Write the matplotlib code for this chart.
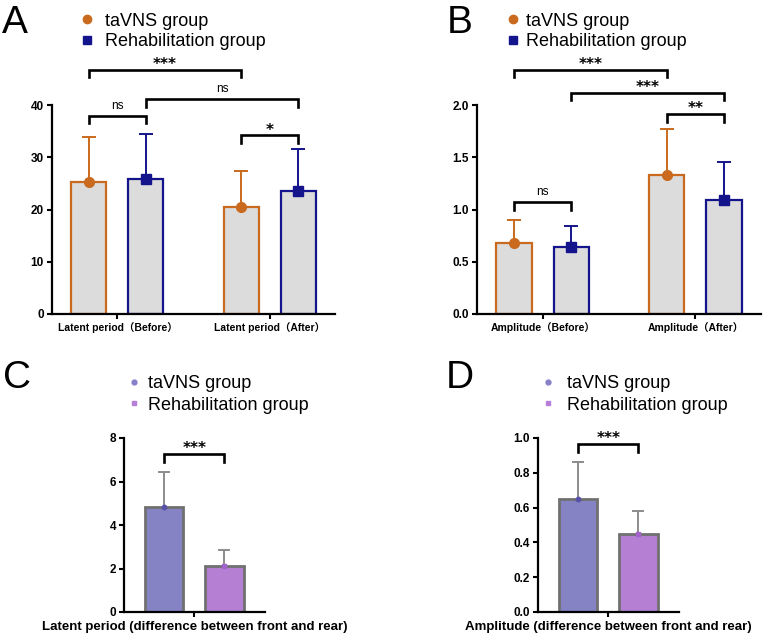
import matplotlib.pyplot as plt
from matplotlib.lines import Line2D

plt.rcParams['font.family'] = ['Liberation Sans', 'Noto Sans CJK SC', 'DejaVu Sans']

# ---- data ----
# panel A: latent period
groups_a = ['Latent period（Before）', 'Latent period（After）']
tavns_a = [25.3, 20.5]
tavns_a_sd = [8.5, 6.8]
rehab_a = [25.8, 23.6]
rehab_a_sd = [8.6, 7.9]

# panel B: amplitude
groups_b = ['Amplitude（Before）', 'Amplitude（After）']
tavns_b = [0.68, 1.33]
tavns_b_sd = [0.22, 0.44]
rehab_b = [0.64, 1.09]
rehab_b_sd = [0.205, 0.36]

# panel C / D: difference between front and rear
diff_lat = [4.85, 2.12]
diff_lat_sd = [1.6, 0.72]
diff_amp = [0.65, 0.45]
diff_amp_sd = [0.21, 0.13]

# significance brackets: (bar i, bar j, top, leg bottom, label)
sig_a = [(0, 2, 46.7, 45.3, '***'), (0, 1, 37.9, 36.6, 'ns'),
         (1, 3, 41.1, 39.6, 'ns'), (2, 3, 34.2, 32.8, '*')]
sig_b = [(0, 2, 2.335, 2.27, '***'), (1, 3, 2.115, 2.05, '***'),
         (2, 3, 1.914, 1.84, '**'), (0, 1, 1.07, 1.0, 'ns')]
sig_c = [(0, 1, 7.26, 6.9, '***')]
sig_d = [(0, 1, 0.965, 0.92, '***')]

ORANGE = '#C96A1E'
NAVY = '#14148C'
FILL = '#DCDCDC'
PURPLE1 = '#8583C3'
PURPLE2 = '#B57FD3'

W, H = 767, 639
fig = plt.figure(figsize=(W / 100, H / 100), dpi=100)


def px_axes(left, top, right, bottom):
    return fig.add_axes([left / W, 1 - bottom / H, (right - left) / W, (bottom - top) / H])


def fxy(px, py):
    return px / W, 1 - py / H


def style_axes(ax):
    for s in ['top', 'right']:
        ax.spines[s].set_visible(False)
    for s in ['left', 'bottom']:
        ax.spines[s].set_linewidth(1.6)
    ax.tick_params(direction='out', length=3.8, width=1.5, pad=2)
    for lab in ax.get_yticklabels():
        lab.set_fontweight('bold')
        lab.set_fontsize(8.5)


def err(ax, x, m, sd, color, capsize):
    eb = ax.errorbar([x], [m], yerr=[[0], [sd]], fmt='none', ecolor=color,
                     elinewidth=1.4, capsize=capsize, capthick=1.4, zorder=3)
    for cap in eb[1]:
        if abs(cap.get_ydata()[0] - m) < 1e-9:
            cap.set_visible(False)


def brackets(ax, xs, sigs):
    for i, j, top, bot, lab in sigs:
        ax.plot([xs[i], xs[i], xs[j], xs[j]], [bot, top, top, bot], color='black',
                lw=1.9, clip_on=False, solid_joinstyle='miter')
        xm = (xs[i] + xs[j]) / 2
        if lab == 'ns':
            ax.annotate(lab, (xm, top), xytext=(0, 5), textcoords='offset points',
                        ha='center', va='baseline', fontsize=8.5, annotation_clip=False)
        else:
            ax.annotate(lab, (xm, top), xytext=(0, 0.5), textcoords='offset points',
                        ha='center', va='baseline', fontsize=11, fontweight='bold',
                        family='DejaVu Sans', annotation_clip=False)


def grouped(ax, groups, t, tsd, r, rsd, ylim, yticks, fmt):
    off, w = 0.1875, 0.23
    xs = []
    for g in range(len(groups)):
        xt, xr = g - off, g + off
        xs += [xt, xr]
        ax.bar(xt, t[g], w, color=FILL, edgecolor=ORANGE, linewidth=1.6, zorder=2)
        ax.bar(xr, r[g], w, color=FILL, edgecolor=NAVY, linewidth=1.6, zorder=2)
        err(ax, xt, t[g], tsd[g], ORANGE, 4.8)
        err(ax, xr, r[g], rsd[g], NAVY, 4.8)
        ax.plot(xt, t[g], 'o', color=ORANGE, ms=7, zorder=4)
        ax.plot(xr, r[g], 's', color=NAVY, ms=7, zorder=4)
    ax.set_xlim(-0.43, 1.43)
    ax.set_ylim(*ylim)
    ax.set_yticks(yticks)
    ax.set_yticklabels([fmt % v for v in yticks])
    ax.set_xticks(range(len(groups)))
    ax.set_xticklabels(groups, fontsize=7.5, fontweight='bold')
    style_axes(ax)
    ax.spines['left'].set_bounds(ylim[0], ylim[1])
    return xs


def diff(ax, vals, sds, ylim, yticks, fmt, xlabel):
    xs = [0, 1]
    ax.bar(xs[0], vals[0], 0.64, color=PURPLE1, edgecolor='#707070', linewidth=2, zorder=2)
    ax.bar(xs[1], vals[1], 0.64, color=PURPLE2, edgecolor='#707070', linewidth=2, zorder=2)
    err(ax, xs[0], vals[0], sds[0], '#8C8C8C', 4)
    err(ax, xs[1], vals[1], sds[1], '#8C8C8C', 4)
    ax.plot(xs[0], vals[0], 'o', color='#5752A8', ms=3.2, zorder=4)
    ax.plot(xs[1], vals[1], 's', color='#A462CC', ms=3.2, zorder=4)
    ax.set_xlim(-0.66, 1.67)
    ax.set_ylim(*ylim)
    ax.set_yticks(yticks)
    ax.set_yticklabels([fmt % v for v in yticks])
    ax.set_xticks([0.5])
    ax.set_xticklabels([''])
    ax.set_xlabel(xlabel, fontsize=9.5, fontweight='bold', labelpad=1)
    style_axes(ax)
    return xs


def legend(mx, my, tx, markers, size):
    for (mk, col, lab), dy in zip(markers, [0, 21]):
        fig.add_artist(Line2D([mx / W], [1 - (my + dy) / H], marker=mk, color=col,
                              ms=size, ls='none', transform=fig.transFigure))
        fig.text(*fxy(tx, my + dy + 6.5), lab, fontsize=13, va='baseline')


# panel A
axA = px_axes(52, 105, 335, 314)
xsA = grouped(axA, groups_a, tavns_a, tavns_a_sd, rehab_a, rehab_a_sd,
              (0, 40), [0, 10, 20, 30, 40], '%d')
brackets(axA, xsA, sig_a)

# panel B
axB = px_axes(477, 105, 761, 314)
xsB = grouped(axB, groups_b, tavns_b, tavns_b_sd, rehab_b, rehab_b_sd,
              (0, 2), [0, 0.5, 1.0, 1.5, 2.0], '%.1f')
brackets(axB, xsB, sig_b)

# panel C
axC = px_axes(124, 438, 265, 612)
xsC = diff(axC, diff_lat, diff_lat_sd, (0, 8), [0, 2, 4, 6, 8], '%d',
           'Latent period (difference between front and rear)')
brackets(axC, xsC, sig_c)

# panel D
axD = px_axes(538, 438, 679, 612)
xsD = diff(axD, diff_amp, diff_amp_sd, (0, 1), [0, 0.2, 0.4, 0.6, 0.8, 1.0], '%.1f',
           'Amplitude (difference between front and rear)')
brackets(axD, xsD, sig_d)

# legends
main = [('o', ORANGE, 'taVNS group'), ('s', NAVY, 'Rehabilitation group')]
purp = [('o', '#8780C8', 'taVNS group'), ('s', '#B77FD9', 'Rehabilitation group')]
legend(87, 19, 105, main, 6)
legend(513, 19, 526, main, 6)
legend(134, 382, 148, purp, 3.5)
legend(548, 382, 567, purp, 3.5)

# panel letters
for lab, x, y in [('A', 2, 33), ('B', 447, 33), ('C', 3, 388), ('D', 446, 388)]:
    fig.text(*fxy(x, y), lab, fontsize=28, va='baseline')

fig.savefig('out.png', dpi=100)
